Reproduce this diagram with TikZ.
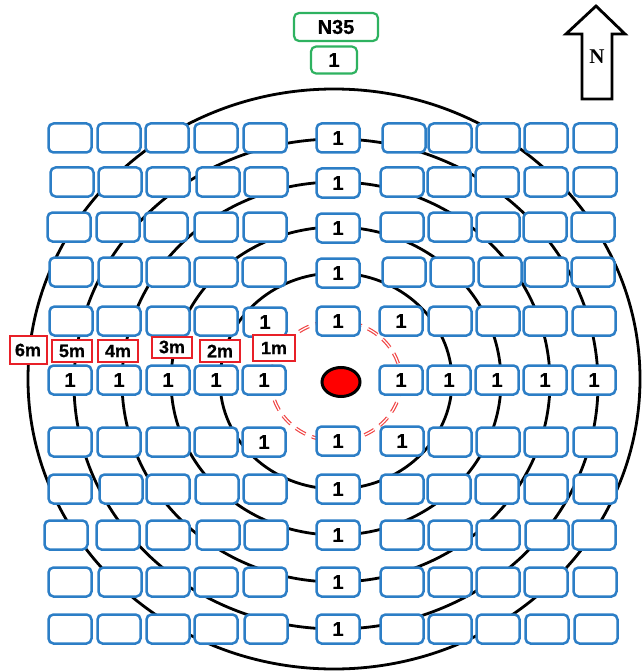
\documentclass[tikz,border=0pt]{standalone}
\usepackage{fontspec}
\usetikzlibrary{shapes.geometric}
\setmainfont{Liberation Sans}[BoldFeatures={FakeBold=0.6}]
\newfontfamily\serifN{Liberation Serif}
\definecolor{boxblue}{RGB}{44,126,198}
\definecolor{lblred}{RGB}{232,32,40}
\definecolor{ringred}{RGB}{240,70,70}
\definecolor{grn}{RGB}{46,178,96}
\begin{document}
\begin{tikzpicture}[x=1pt,y=-1pt,
  bx/.style={draw=boxblue,line width=2.5pt,fill=white,rounded corners=5pt,
    minimum width=43pt,minimum height=29pt,inner sep=0pt,
    font=\fontsize{20}{20}\selectfont\bfseries},
  lbl/.style={draw=lblred,line width=2pt,fill=white,
    minimum width=38pt,minimum height=26pt,inner sep=0pt,
    font=\fontsize{18}{18}\selectfont\bfseries},
  gbx/.style={draw=grn,line width=2.2pt,fill=white,rounded corners=5pt,
    inner sep=0pt,font=\fontsize{20}{20}\selectfont\bfseries},
  ring/.style={line width=2.8pt,black}]
\useasboundingbox (0,0) rectangle (644,671);
% rings
\coordinate (ctr) at (336,381);
\coordinate (octr) at (334,379);
\draw[ring] (ctr) ellipse [x radius=116pt,y radius=108pt];
\draw[ring] (ctr) ellipse [x radius=165pt,y radius=154pt];
\draw[ring] (336,382) ellipse [x radius=214pt,y radius=200pt];
\draw[ring] (336,384) ellipse [x radius=262pt,y radius=245pt];
\draw[ring] (octr) ellipse [x radius=306pt,y radius=290pt];
\draw[draw=ringred,line width=1.2pt,double=white,double distance=1.2pt,
  dash pattern=on 11pt off 7pt] (ctr) ellipse [x radius=65pt,y radius=60pt];
% regular left rows
\foreach \r/\y/\xs in {1/138/{70,119,167,216,265},2/182/{72,120,168,218,266},
  3/227/{69,118,166,216,265},4/272/{71,120,168,216,264},
  8/489/{70,121,168,217,265},9/535/{66,118,168,218,266},
  10/582/{70,120,168,216,265},11/629/{70,119,168,216,266}}
  {\foreach \x [count=\c] in \xs {\node[bx] (L\r-\c) at (\x,\y) {};}}
% regular right rows
\foreach \r/\y/\xs in {1/138/{404,450,498,546,595},2/182/{402,449,497,546,595},
  3/227/{402,450,498,545,593},4/272/{404,452,500,546,593},
  8/489/{402,449,497,546,595},9/535/{402,450,498,547,594},
  10/582/{402,450,498,546,595},11/629/{402,450,498,547,596}}
  {\foreach \x [count=\c] in \xs {\node[bx] (R\r-\c) at (\x,\y) {};}}
% center column
\foreach \r/\y in {1/138,2/183,3/228,4/273,5/321,7/441,8/489,9/535,10/582,11/629}
  {\node[bx] (C\r) at (338,\y) {1};}
% row 5
\foreach \x [count=\c] in {71,119,168,216} {\node[bx] (L5-\c) at (\x,321) {};}
\node[bx] (L5-5) at (265,322) {1};
\node[bx] (R5-1) at (401,321) {1};
\foreach \x [count=\c from 2] in {450,498,545,594} {\node[bx] (R5-\c) at (\x,321) {};}
% row 6
\foreach \x [count=\c] in {70,119,168,216,264} {\node[bx] (L6-\c) at (\x,380) {1};}
\foreach \x [count=\c] in {401,449,497,545,594} {\node[bx] (R6-\c) at (\x,380) {1};}
% row 7
\foreach \x [count=\c] in {70,119,168,216} {\node[bx] (L7-\c) at (\x,442) {};}
\node[bx] (L7-5) at (264,442) {1};
\node[bx] (R7-1) at (402,441) {1};
\foreach \x [count=\c from 2] in {450,498,546,595} {\node[bx] (R7-\c) at (\x,442) {};}
% distance labels
\node[lbl,minimum width=37pt,minimum height=28pt] (m6) at (28,350) {6m};
\node[lbl,minimum width=40pt,minimum height=22pt] (m5) at (72,351) {5m};
\node[lbl,minimum width=40pt,minimum height=22pt] (m4) at (118,351) {4m};
\node[lbl,minimum width=40pt,minimum height=21pt] (m3) at (172,347) {3m};
\node[lbl,minimum width=40pt,minimum height=22pt] (m2) at (220,351) {2m};
\node[lbl,minimum width=42pt,minimum height=26pt] (m1) at (274,348) {1m};
% red dot
\node[ellipse,draw=black,line width=3pt,fill=red,minimum width=38pt,
  minimum height=29pt,inner sep=0pt] (dot) at (341,382) {};
% green boxes
\node[gbx,minimum width=84pt,minimum height=28pt] (n35) at (336,27) {N35};
\node[gbx,minimum width=46pt,minimum height=27pt] (g1) at (334,60) {1};
% north arrow
\draw[line width=2.8pt,line join=miter] (596,6) -- (625,34) -- (612,34) -- (612,99)
  -- (582,99) -- (582,34) -- (566,34) -- cycle;
\node[font=\serifN\bfseries\fontsize{21}{21}\selectfont] (north) at (597,57) {N};
\end{tikzpicture}
\end{document}
